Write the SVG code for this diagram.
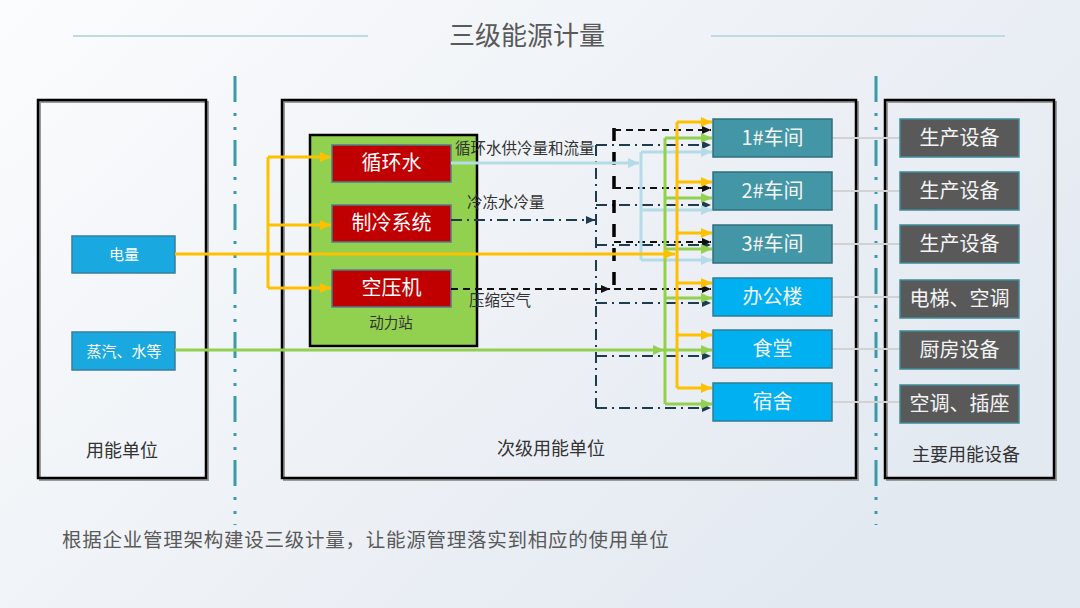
<svg xmlns="http://www.w3.org/2000/svg" width="1080" height="608" viewBox="0 0 1080 608">
<defs>
<linearGradient id="bg" x1="0" y1="0" x2="1" y2="0.6">
<stop offset="0" stop-color="#fbfcfd"/>
<stop offset="1" stop-color="#e3e9f1"/>
</linearGradient>
<marker id="aO" markerUnits="userSpaceOnUse" markerWidth="12" markerHeight="10" refX="11" refY="5" orient="auto"><path d="M0,0 L11,5 L0,10 z" fill="#ffc000"/></marker>
<marker id="aG" markerUnits="userSpaceOnUse" markerWidth="12" markerHeight="10" refX="11" refY="5" orient="auto"><path d="M0,0 L11,5 L0,10 z" fill="#92d050"/></marker>
<marker id="aB" markerUnits="userSpaceOnUse" markerWidth="12" markerHeight="10" refX="11" refY="5" orient="auto"><path d="M0,0 L11,5 L0,10 z" fill="#b4dce6"/></marker>
<marker id="aD" markerUnits="userSpaceOnUse" markerWidth="10" markerHeight="8" refX="9" refY="4" orient="auto"><path d="M0,0 L9,4 L0,8 z" fill="#1e3c50"/></marker>
<marker id="aK" markerUnits="userSpaceOnUse" markerWidth="10" markerHeight="8" refX="9" refY="4" orient="auto"><path d="M0,0 L9,4 L0,8 z" fill="#111"/></marker>
</defs>
<style>
text{font-family:"Noto Sans CJK SC","Noto Sans",sans-serif;}
.frame{fill:none;stroke:#000;stroke-width:2.5;}
.shadow{fill:none;stroke:#9a9a9a;stroke-width:2;}
.lbl{font-size:18px;fill:#333;text-anchor:middle;}
.red{fill:#c00000;stroke:#4d7f8c;stroke-width:1.5;}
.rt{font-size:20px;fill:#fff;text-anchor:middle;}
.teal{fill:#4296a6;stroke:#2f6f7d;stroke-width:1.5;}
.sky{fill:#00b0f0;stroke:#2f7d95;stroke-width:1.5;}
.gray{fill:#595959;stroke:#3c8c99;stroke-width:1.5;}
.wt{font-size:20px;fill:#f4f4f4;text-anchor:middle;}
.src{fill:#1aa8e0;stroke:#3a7ca0;stroke-width:1.5;}
.st{font-size:15px;fill:#fff;text-anchor:middle;}
.cap{font-size:15.5px;fill:#333;}
.o{fill:none;stroke:#ffc000;stroke-width:3;}
.g{fill:none;stroke:#92d050;stroke-width:3;}
.b{fill:none;stroke:#b4dce6;stroke-width:3;}
.d{fill:none;stroke:#1e3c50;stroke-width:2;stroke-dasharray:11 5 2 5;}
.k{fill:none;stroke:#111;stroke-width:2;stroke-dasharray:7 5;}
.kt{fill:none;stroke:#000;stroke-width:3.5;stroke-dasharray:13 11;}
.gc{fill:none;stroke:#d2d2d2;stroke-width:2;}
.sep{fill:none;stroke:#3a9aa8;stroke-width:3;stroke-dasharray:26 11 3 11 3 10;}
</style>
<rect x="0" y="0" width="1080" height="608" fill="url(#bg)"/>

<g id="title">
<line x1="73" y1="36" x2="368" y2="36" stroke="#bcdbe2" stroke-width="2"/>
<line x1="711" y1="36" x2="1005" y2="36" stroke="#bcdbe2" stroke-width="2"/>
<text x="527" y="45" font-size="26" fill="#595959" text-anchor="middle">三级能源计量</text>
</g>

<g id="separators">
<line class="sep" x1="235" y1="76" x2="235" y2="525"/>
<line class="sep" x1="876" y1="76" x2="876" y2="525"/>
</g>

<g id="unit-box">
<rect class="shadow" x="40" y="102" width="168" height="378"/>
<rect class="frame" x="38" y="100" width="168" height="378"/>
<text class="lbl" x="122" y="457" font-size="17">用能单位</text>
</g>
<g id="sub-unit-box">
<rect class="shadow" x="284" y="102" width="574" height="378"/>
<rect class="frame" x="282" y="100" width="574" height="378"/>
<text class="lbl" x="551" y="455">次级用能单位</text>
</g>
<g id="device-box">
<rect class="shadow" x="887" y="102" width="169" height="378"/>
<rect class="frame" x="885" y="100" width="169" height="378"/>
<text class="lbl" x="966" y="461">主要用能设备</text>
</g>

<g id="power-station">
<rect x="310" y="135" width="167" height="211" fill="#92d050" stroke="#000" stroke-width="2.5"/>
<text x="391" y="328" font-size="14.5" fill="#333" text-anchor="middle">动力站</text>
</g>

<g id="n-water"><rect class="red" x="332" y="145" width="119" height="37"/><text class="rt" x="391.5" y="170">循环水</text></g>
<g id="n-cool"><rect class="red" x="332" y="205" width="119" height="37"/><text class="rt" x="391.5" y="230">制冷系统</text></g>
<g id="n-air"><rect class="red" x="332" y="270" width="119" height="37"/><text class="rt" x="391.5" y="295">空压机</text></g>

<g id="n-elec"><rect class="src" x="72" y="236" width="103" height="37"/><text class="st" x="124" y="260">电量</text></g>
<g id="n-steam"><rect class="src" x="72" y="332" width="103" height="38"/><text class="st" x="124" y="357">蒸汽、水等</text></g>

<g id="connectors">
<path class="gc" d="M832,138 H900 M832,191 H900 M832,244 H900 M832,297 H900 M832,349 H900 M832,402 H900"/>
<path class="d" d="M451,220 H595" marker-end="url(#aD)"/>
<path class="d" d="M596,145 V408"/>
<path class="d" d="M596,145 H711" marker-end="url(#aD)"/>
<path class="d" d="M596,205 H711" marker-end="url(#aD)"/>
<path class="d" d="M596,245 H711" marker-end="url(#aD)"/>
<path class="d" d="M596,303 H711" marker-end="url(#aD)"/>
<path class="d" d="M596,356 H711" marker-end="url(#aD)"/>
<path class="d" d="M596,408 H711" marker-end="url(#aD)"/>
<path class="k" d="M451,289 H610" marker-end="url(#aK)"/>
<path class="k" d="M614,289 H711" marker-end="url(#aK)"/>
<path class="kt" d="M614,128 V289"/>
<path class="k" d="M614,130 H711" marker-end="url(#aK)"/>
<path class="k" d="M614,188 H711" marker-end="url(#aK)"/>
<path class="k" d="M614,242 H711" marker-end="url(#aK)"/>
<path class="b" d="M451,163 H639" marker-end="url(#aB)"/>
<path class="b" d="M641,152 V260"/>
<path class="b" d="M641,152 H712" marker-end="url(#aB)"/>
<path class="b" d="M641,210 H712" marker-end="url(#aB)"/>
<path class="b" d="M641,260 H712" marker-end="url(#aB)"/>
<path class="g" d="M175,350 H664" marker-end="url(#aG)"/>
<path class="g" d="M665,138 V404"/>
<path class="g" d="M665,138 H712" marker-end="url(#aG)"/>
<path class="g" d="M665,198 H712" marker-end="url(#aG)"/>
<path class="g" d="M665,249 H712" marker-end="url(#aG)"/>
<path class="g" d="M665,298 H712" marker-end="url(#aG)"/>
<path class="g" d="M665,350 H712" marker-end="url(#aG)"/>
<path class="g" d="M665,404 H712" marker-end="url(#aG)"/>
<path class="o" d="M268,157 V288"/>
<path class="o" d="M268,157 H331" marker-end="url(#aO)"/>
<path class="o" d="M268,225 H331" marker-end="url(#aO)"/>
<path class="o" d="M268,288 H331" marker-end="url(#aO)"/>
<path class="o" d="M175,254 H675" marker-end="url(#aO)"/>
<path class="o" d="M677,122 V388"/>
<path class="o" d="M677,122 H712" marker-end="url(#aO)"/>
<path class="o" d="M677,182 H712" marker-end="url(#aO)"/>
<path class="o" d="M677,233 H712" marker-end="url(#aO)"/>
<path class="o" d="M677,283 H712" marker-end="url(#aO)"/>
<path class="o" d="M677,335 H712" marker-end="url(#aO)"/>
<path class="o" d="M677,388 H712" marker-end="url(#aO)"/>
<text class="cap" x="455" y="154">循环水供冷量和流量</text>
<text class="cap" x="467" y="208">冷冻水冷量</text>
<text class="cap" x="469" y="306">压缩空气</text>
</g>

<g id="n-ws1"><rect class="teal" x="713" y="119" width="119" height="38"/><text class="wt" x="772.5" y="145">1#车间</text></g>
<g id="n-ws2"><rect class="teal" x="713" y="172" width="119" height="38"/><text class="wt" x="772.5" y="198">2#车间</text></g>
<g id="n-ws3"><rect class="teal" x="713" y="225" width="119" height="38"/><text class="wt" x="772.5" y="251">3#车间</text></g>
<g id="n-office"><rect class="sky" x="713" y="278" width="119" height="38"/><text class="wt" x="772.5" y="304">办公楼</text></g>
<g id="n-canteen"><rect class="sky" x="713" y="330" width="119" height="38"/><text class="wt" x="772.5" y="356">食堂</text></g>
<g id="n-dorm"><rect class="sky" x="713" y="383" width="119" height="38"/><text class="wt" x="772.5" y="409">宿舍</text></g>

<g id="d1"><rect class="gray" x="900" y="119" width="119" height="38"/><text class="wt" x="959.5" y="145">生产设备</text></g>
<g id="d2"><rect class="gray" x="900" y="172" width="119" height="38"/><text class="wt" x="959.5" y="198">生产设备</text></g>
<g id="d3"><rect class="gray" x="900" y="225" width="119" height="38"/><text class="wt" x="959.5" y="251">生产设备</text></g>
<g id="d4"><rect class="gray" x="900" y="280" width="119" height="38"/><text class="wt" x="959.5" y="306">电梯、空调</text></g>
<g id="d5"><rect class="gray" x="900" y="331" width="119" height="38"/><text class="wt" x="959.5" y="357">厨房设备</text></g>
<g id="d6"><rect class="gray" x="900" y="385" width="119" height="38"/><text class="wt" x="959.5" y="411">空调、插座</text></g>

<text x="62" y="547" font-size="19.5" letter-spacing="0.75" fill="#595959">根据企业管理架构建设三级计量，让能源管理落实到相应的使用单位</text>
</svg>
